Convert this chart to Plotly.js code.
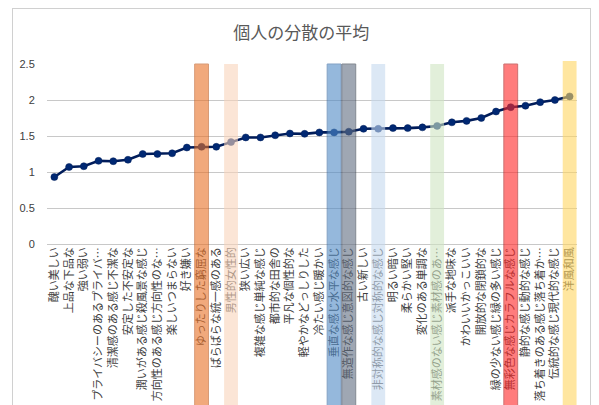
<!DOCTYPE html>
<html>
<head>
<meta charset="utf-8">
<script src="https://cdn.plot.ly/plotly-3.0.1.min.js"></script>
<style>
html,body{margin:0;padding:0;overflow:hidden;background:#fff;}
#chart{width:599px;height:405px;position:absolute;left:0;top:0;}
#frame{position:absolute;left:12px;top:8px;width:579px;height:460px;border:1px solid #d0d0d0;pointer-events:none;box-sizing:border-box;}
</style>
</head>
<body>
<div id="chart"></div>
<div id="frame"></div>
<script>
// ---- data ----
const categories = [
  '醜い美しい',
  '上品な下品な',
  '強い弱い',
  'プライバシーのあるプライバ…',
  '清潔感のある感じ不潔な',
  '安定した不安定な',
  '潤いがある感じ殺風景な感じ',
  '方向性のある感じ方向性のな…',
  '楽しいつまらない',
  '好き嫌い',
  'ゆったりした窮屈な',
  'ばらばらな統一感のある',
  '男性的女性的',
  '狭い広い',
  '複雑な感じ単純な感じ',
  '都市的な田舎の',
  '平凡な個性的な',
  '軽やかなどっしりした',
  '冷たい感じ暖かい',
  '垂直な感じ水平な感じ',
  '無造作な感じ意図的な感じ',
  '古い新しい',
  '非対称的な感じ対称的な感じ',
  '明るい暗い',
  '柔らかい堅い',
  '変化のある単調な',
  '素材感のない感じ素材感のあ…',
  '派手な地味な',
  'かわいいかっこいい',
  '開放的な閉鎖的な',
  '緑の少ない感じ緑の多い感じ',
  '無彩色な感じカラフルな感じ',
  '静的な感じ動的な感じ',
  '落ち着きのある感じ落ち着か…',
  '伝統的な感じ現代的な感じ',
  '洋風和風'
];
const values = [
  0.93, 1.07, 1.08, 1.155, 1.15, 1.17, 1.25, 1.25, 1.26, 1.34,
  1.35, 1.35, 1.415, 1.48, 1.48, 1.51, 1.535, 1.53, 1.55, 1.55,
  1.56, 1.60, 1.60, 1.61, 1.61, 1.62, 1.64, 1.69, 1.71, 1.75,
  1.84, 1.90, 1.92, 1.97, 2.00, 2.05
];
const highlighted = [
  'ゆったりした窮屈な',
  '男性的女性的',
  '垂直な感じ水平な感じ',
  '無造作な感じ意図的な感じ',
  '非対称的な感じ対称的な感じ',
  '素材感のない感じ素材感のあ…',
  '無彩色な感じカラフルな感じ',
  '洋風和風'
];
const yTicks = [0, 0.5, 1, 1.5, 2, 2.5];
const yTickText = ['0', '0.5', '1', '1.5', '2', '2.5'];

// ---- styles ----
const highlightStyles = [
  {fill: 'rgb(233,113,38)', line: 'rgb(190,90,30)', lw: 1},
  {fill: 'rgb(248,212,187)', line: 'rgba(0,0,0,0)', lw: 0},
  {fill: 'rgb(80,138,197)', line: 'rgb(50,100,160)', lw: 1},
  {fill: 'rgb(97,110,130)', line: 'rgb(50,60,75)', lw: 1},
  {fill: 'rgb(197,217,238)', line: 'rgba(0,0,0,0)', lw: 0},
  {fill: 'rgb(207,228,193)', line: 'rgba(0,0,0,0)', lw: 0},
  {fill: 'rgb(255,38,38)', line: 'rgb(170,20,20)', lw: 1},
  {fill: 'rgb(255,213,97)', line: 'rgba(0,0,0,0)', lw: 0}
];

const shapes = highlighted.map((c, k) => {
  const i = categories.indexOf(c);
  const st = highlightStyles[k];
  return {
    type: 'rect', layer: 'above',
    xref: 'x', yref: 'paper',
    x0: i - 0.47, x1: i + 0.47,
    y0: -0.98, y1: (k === highlighted.length - 1) ? 1.017 : 1.0,
    fillcolor: st.fill, opacity: 0.6,
    line: {color: st.line, width: st.lw}
  };
});

const trace = {
  type: 'scatter', mode: 'lines+markers',
  x: categories, y: values,
  line: {color: 'rgb(0,28,90)', width: 2.6},
  marker: {color: 'rgb(0,40,115)', size: 7, line: {color: 'rgb(0,30,90)', width: 0.5}},
  hoverinfo: 'skip', showlegend: false
};

const layout = {
  width: 599, height: 405,
  margin: {l: 47, r: 22, t: 64, b: 161, pad: 0},
  paper_bgcolor: 'rgba(0,0,0,0)', plot_bgcolor: 'rgba(0,0,0,0)',
  font: {family: '"Noto Sans CJK JP", "Noto Sans", sans-serif', color: '#595959'},
  title: {
    text: '個人の分散の平均',
    font: {size: 17, color: '#595959', family: '"Noto Sans CJK JP", sans-serif'},
    x: 0.503, xref: 'container', xanchor: 'center',
    y: 1 - 33 / 405, yref: 'container', yanchor: 'middle'
  },
  xaxis: {
    type: 'category', tickmode: 'linear', tick0: 0, dtick: 1,
    tickangle: -90, automargin: false,
    tickfont: {size: 11, color: '#404040', family: '"Noto Sans CJK JP", sans-serif'},
    showgrid: false, showline: false, zeroline: false,
    ticks: '', range: [-0.5, categories.length - 0.5]
  },
  yaxis: {
    range: [0, 2.5], tickmode: 'array', tickvals: yTicks, ticktext: yTickText,
    automargin: false,
    tickfont: {size: 11, color: '#404040', family: 'Liberation Sans, Arial, sans-serif'},
    showgrid: true, gridcolor: '#c8c8c8', gridwidth: 1,
    zeroline: true, zerolinecolor: '#c8c8c8', zerolinewidth: 1,
    showline: false, ticks: 'outside', ticklen: 9, tickcolor: 'rgba(0,0,0,0)'
  },
  shapes: shapes
};

Plotly.newPlot('chart', [trace], layout, {displayModeBar: false, staticPlot: true});
</script>
</body>
</html>
